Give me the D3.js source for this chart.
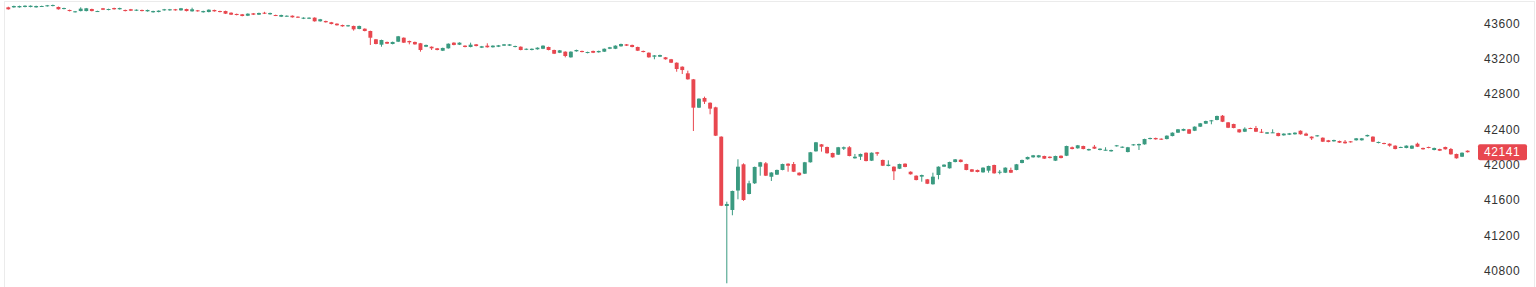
<!DOCTYPE html>
<html>
<head>
<meta charset="utf-8">
<script src="https://cdn.jsdelivr.net/npm/d3@7"></script>
<style>
  body { margin: 0; background: #fff; }
  svg { display: block; }
  .tick text { font-family: "Liberation Sans", Arial, sans-serif; font-size: 12px; fill: #333; letter-spacing: 0.6px; }
</style>
</head>
<body>
<svg id="chart"></svg>
<script>
let w = 1536
let h = 287

let upColor = "#3a9a80"
let downColor = "#e8474f"

// candles, oldest first
let opens = [
43781,43781,43781,43785,43785,43781,43792,43793,43796,43785,
43762,43751,43728,43739,43739,43762,43732,43770,43751,43773,
43759,43751,43759,43743,43751,43736,43725,43728,43747,43747,
43759,43747,43762,43736,43747,43725,43728,43751,43739,43739,
43720,43706,43702,43686,43713,43698,43720,43702,43694,43675,
43679,43686,43675,43652,43652,43664,43623,43626,43612,43596,
43581,43566,43570,43536,43539,43513,43419,43358,43389,43366,
43392,43437,43400,43389,43374,43335,43335,43317,43290,43317,
43381,43358,43347,43332,43362,43324,43347,43329,43335,43347,
43347,43332,43335,43301,43298,43306,43312,43332,43298,43267,
43279,43215,43283,43287,43264,43287,43272,43279,43312,43312,
43340,43362,43355,43332,43287,43267,43222,43222,43215,43193,
43154,43109,43034,42966,42645,42755,42701,42649,42317,41532,
41487,41707,42004,41668,41789,41977,42015,41863,41887,41940,
42011,42007,41909,41898,42027,42151,42230,42200,42132,42113,
42181,42197,42072,42090,42135,42045,42140,42053,41985,41977,
41954,42011,41920,41875,41864,41834,41778,41883,41977,41959,
42030,42056,42007,41947,41940,41913,41932,41996,41909,41909,
41940,41940,42019,42061,42083,42083,42098,42090,42045,42101,
42101,42197,42185,42211,42162,42203,42166,42162,42151,42208,
42192,42143,42219,42219,42230,42290,42302,42294,42290,42324,
42362,42384,42400,42384,42430,42464,42494,42506,42554,42479,
42460,42400,42373,42415,42415,42373,42351,42362,42358,42332,
42339,42344,42384,42351,42317,42321,42305,42276,42264,42268,
42260,42264,42276,42276,42321,42317,42245,42245,42237,42215,
42192,42189,42181,42237,42189,42200,42166,42177,42200,42177,
42121,42090,42158]

let highs = [
43788,43800,43800,43804,43803,43800,43800,43808,43812,43790,
43777,43755,43740,43781,43774,43766,43743,43774,43766,43777,
43777,43755,43763,43758,43755,43755,43743,43747,43763,43763,
43763,43774,43766,43777,43751,43743,43758,43755,43743,43743,
43724,43710,43706,43713,43717,43721,43730,43721,43698,43698,
43690,43690,43679,43668,43668,43668,43650,43630,43616,43600,
43585,43582,43574,43574,43543,43517,43423,43415,43393,43393,
43457,43441,43404,43393,43378,43359,43339,43321,43325,43373,
43385,43385,43351,43381,43366,43344,43374,43351,43355,43366,
43366,43347,43339,43316,43316,43328,43351,43336,43302,43298,
43283,43283,43302,43291,43279,43291,43291,43316,43333,43351,
43370,43366,43359,43336,43291,43271,43241,43245,43219,43197,
43158,43113,43064,42970,42751,42770,42705,42656,42321,41581,
41706,42061,42015,41818,41978,42031,42030,41915,41944,42011,
42015,42030,41913,42031,42144,42257,42234,42204,42136,42201,
42205,42210,42121,42125,42139,42139,42144,42057,42049,41981,
42011,42015,41924,41879,41887,41838,41909,41981,42004,42034,
42064,42060,42011,41951,41944,41970,41989,42000,41940,41970,
41966,42008,42057,42091,42110,42110,42102,42094,42102,42105,
42215,42205,42223,42215,42181,42223,42185,42197,42170,42223,
42207,42201,42234,42238,42294,42306,42306,42298,42332,42366,
42404,42408,42404,42434,42472,42498,42506,42555,42562,42483,
42464,42404,42423,42419,42438,42404,42370,42400,42362,42355,
42359,42366,42388,42362,42321,42336,42309,42280,42283,42272,
42279,42268,42302,42302,42340,42321,42261,42249,42241,42219,
42204,42219,42219,42249,42193,42204,42193,42181,42204,42189,
42125,42139,42162]

let lows = [
43755,43776,43777,43781,43781,43777,43788,43789,43792,43755,
43758,43735,43722,43735,43735,43735,43728,43750,43747,43755,
43755,43735,43739,43739,43735,43732,43721,43724,43743,43743,
43743,43743,43735,43732,43732,43721,43724,43732,43724,43705,
43694,43690,43679,43682,43694,43694,43705,43698,43682,43671,
43675,43664,43660,43648,43648,43619,43619,43608,43588,43574,
43562,43562,43517,43532,43509,43355,43362,43335,43366,43362,
43388,43377,43362,43358,43279,43331,43298,43294,43286,43313,
43351,43354,43328,43328,43339,43320,43325,43325,43331,43343,
43343,43328,43294,43297,43294,43302,43308,43294,43252,43263,
43215,43211,43279,43271,43260,43263,43268,43275,43308,43308,
43336,43343,43328,43286,43271,43211,43193,43218,43189,43150,
43052,43026,42962,42381,42641,42687,42570,42324,41531,40657,
41427,41608,41590,41664,41781,41875,41871,41815,41883,41936,
41920,41916,41876,41894,42023,42147,42147,42125,42079,42109,
42166,42094,42068,42053,42037,42041,42101,41984,41981,41826,
41950,41970,41887,41822,41807,41780,41774,41834,41973,41955,
42026,42026,41936,41916,41913,41909,41909,41898,41891,41905,
41905,41936,42015,42057,42079,42079,42064,42071,42041,42071,
42097,42173,42181,42173,42158,42177,42162,42158,42147,42204,
42188,42139,42215,42166,42226,42286,42283,42279,42286,42320,
42358,42380,42347,42380,42426,42460,42457,42502,42482,42414,
42411,42362,42369,42403,42369,42358,42347,42358,42320,42328,
42335,42340,42340,42324,42279,42317,42256,42253,42260,42245,
42238,42249,42272,42272,42317,42256,42241,42230,42203,42173,
42188,42185,42177,42199,42170,42185,42162,42154,42170,42113,
42068,42086,42137]

let closes = [
43759,43796,43796,43799,43799,43796,43796,43804,43807,43759,
43773,43739,43736,43766,43770,43739,43739,43754,43762,43759,
43773,43739,43743,43754,43739,43751,43739,43743,43759,43759,
43747,43770,43739,43759,43736,43739,43754,43736,43728,43709,
43698,43694,43683,43709,43698,43717,43709,43717,43686,43694,
43686,43668,43664,43664,43664,43623,43646,43612,43592,43578,
43566,43578,43532,43570,43513,43437,43366,43411,43370,43389,
43453,43381,43385,43362,43298,43355,43317,43298,43321,43369,
43355,43381,43332,43358,43343,43340,43329,43347,43351,43362,
43362,43343,43298,43312,43312,43324,43347,43298,43256,43294,
43230,43279,43298,43275,43275,43267,43287,43312,43329,43347,
43366,43347,43332,43290,43275,43215,43237,43241,43193,43154,
43083,43071,42966,42645,42747,42713,42634,42328,41535,41555,
41702,41977,41600,41789,41974,42027,41875,41911,41940,42007,
41988,41920,41880,42027,42140,42253,42203,42129,42083,42197,
42197,42098,42090,42121,42041,42135,42124,41988,42000,41925,
42007,41974,41891,41826,41883,41784,41864,41977,42000,42030,
42060,42030,41940,41920,41917,41966,41985,41902,41920,41966,
41909,42004,42053,42087,42106,42106,42068,42075,42098,42075,
42211,42177,42219,42177,42177,42181,42181,42169,42166,42219,
42203,42197,42230,42234,42290,42302,42287,42283,42328,42362,
42400,42404,42351,42430,42468,42494,42502,42551,42486,42418,
42415,42366,42407,42407,42373,42362,42366,42366,42324,42351,
42355,42362,42344,42328,42298,42332,42260,42257,42279,42249,
42242,42253,42298,42298,42336,42260,42257,42234,42215,42177,
42200,42215,42215,42203,42174,42189,42189,42158,42174,42117,
42072,42135,42141]

let yTicks = [40800, 41200, 41600, 42000, 42400, 42800, 43200, 43600]
let lastPrice = closes[closes.length - 1]

let svg = d3.select('#chart')
  .attr('width', w)
  .attr('height', h)

let x = d3.scaleLinear()
  .domain([0, closes.length - 1])
  .range([8.3, 1467.6])

let y = d3.scaleLinear()
  .domain([40615, 43864])
  .range([h, 0])

let bw = 3.9

// frame
svg.append('rect')
  .attr('x', 4.5)
  .attr('y', 1.5)
  .attr('width', 1530)
  .attr('height', h + 10)
  .attr('fill', 'none')
  .attr('stroke', '#ebebeb')

let candles = closes.map((c, i) => ({ i: i, o: opens[i], h: highs[i], l: lows[i], c: c }))
let colorOf = (d) => d.c >= d.o ? upColor : downColor

let g = svg.append('g')

g.selectAll('line.wick')
  .data(candles)
  .join('line')
  .attr('class', 'wick')
  .attr('x1', (d) => x(d.i))
  .attr('x2', (d) => x(d.i))
  .attr('y1', (d) => y(d.h))
  .attr('y2', (d) => y(d.l))
  .attr('stroke', colorOf)
  .attr('stroke-width', 1)

g.selectAll('rect.body')
  .data(candles)
  .join('rect')
  .attr('class', 'body')
  .attr('x', (d) => x(d.i) - bw / 2)
  .attr('y', (d) => y(Math.max(d.o, d.c)))
  .attr('width', bw)
  .attr('height', (d) => Math.max(1, Math.abs(y(d.o) - y(d.c))))
  .attr('fill', colorOf)

// price scale
let axis = d3.axisRight(y)
  .tickValues(yTicks)
  .tickSize(0)
  .tickPadding(0)
  .tickFormat(d3.format('d'))

let axisG = svg.append('g')
  .attr('transform', 'translate(1484,0)')
  .call(axis)

axisG.select('.domain').remove()

// last price label
let lp = svg.append('g')
  .attr('transform', 'translate(0,' + y(lastPrice) + ')')

lp.append('rect')
  .attr('x', 1478)
  .attr('y', -8)
  .attr('width', 49)
  .attr('height', 16)
  .attr('rx', 2)
  .attr('fill', downColor)

lp.append('text')
  .text(lastPrice)
  .attr('x', 1484)
  .attr('y', 0)
  .attr('dy', '0.35em')
  .attr('fill', '#fff')
  .style('font-family', '"Liberation Sans", Arial, sans-serif')
  .style('font-size', '12px')
  .style('letter-spacing', '0.6px')
</script>
</body>
</html>
